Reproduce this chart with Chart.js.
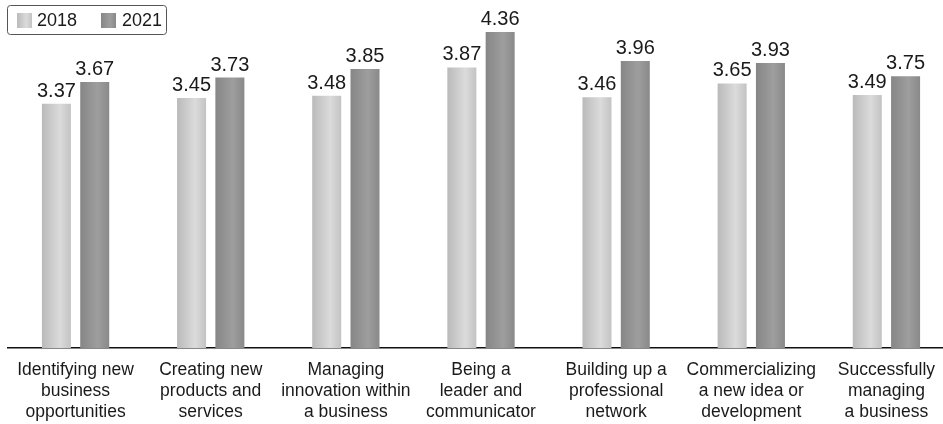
<!DOCTYPE html>
<html lang="en">
<head>
    <meta charset="UTF-8">
    <title>Entrepreneurial skills 2018 vs 2021</title>
    <script src="https://cdn.jsdelivr.net/npm/chart.js"></script>
    <style>
        html, body { margin: 0; padding: 0; background: #fff; overflow: hidden; }
        #wrap { position: relative; width: 962px; height: 424px; }
    </style>
</head>
<body>
    <div id="wrap">
        <canvas id="skillsChart"></canvas>
    </div>

    <script>
        // Skill categories (each entry = the lines of its axis label)
        const categories = [
            ['Identifying new', 'business', 'opportunities'],
            ['Creating new', 'products and', 'services'],
            ['Managing', 'innovation within', 'a business'],
            ['Being a', 'leader and', 'communicator'],
            ['Building up a', 'professional', 'network'],
            ['Commercializing', 'a new idea or', 'development'],
            ['Successfully', 'managing', 'a business']
        ];
        const seriesNames = ['2018', '2021'];
        const values2018 = [3.37, 3.45, 3.48, 3.87, 3.46, 3.65, 3.49];
        const values2021 = [3.67, 3.73, 3.85, 4.36, 3.96, 3.93, 3.75];

        const FONT = '"Liberation Sans", Arial, sans-serif';
        const CAT_PCT = 0.567;
        const BAR_PCT = 0.757;

        // gradient stops for each series (cylinder-like shading)
        const shades = [
            [[0, '#bababa'], [0.62, '#dbdbdb'], [1, '#c3c3c3']],
            [[0, '#868686'], [0.6, '#9e9e9e'], [1, '#898989']]
        ];

        function makeGradient(c, x0, x1, stops) {
            const g = c.createLinearGradient(x0, 0, x1, 0);
            stops.forEach(s => g.addColorStop(s[0], s[1]));
            return g;
        }

        function barFill(context) {
            const chart = context.chart;
            const x = chart.scales.x;
            const ds = context.datasetIndex;
            if (!chart.chartArea || !x || context.type !== 'data') return shades[ds][1][1];
            const cat = (x.right - x.left) / categories.length;
            const chunk = cat * CAT_PCT / 2;
            const center = x.getPixelForValue(context.dataIndex) + (ds === 0 ? -chunk / 2 : chunk / 2);
            const half = chunk * BAR_PCT / 2;
            return makeGradient(chart.ctx, center - half, center + half, shades[ds]);
        }

        // value labels above bars
        const valueLabels = {
            id: 'valueLabels',
            afterDatasetsDraw(chart) {
                const c = chart.ctx;
                c.save();
                c.font = '20px ' + FONT;
                c.fillStyle = '#1a1a1a';
                c.textAlign = 'center';
                c.textBaseline = 'alphabetic';
                chart.data.datasets.forEach((d, i) => {
                    chart.getDatasetMeta(i).data.forEach((bar, j) => {
                        c.fillText(d.data[j].toFixed(2), bar.x, bar.y - 7);
                    });
                });
                c.restore();
            }
        };

        // boxed legend in the top-left corner
        const boxLegend = {
            id: 'boxLegend',
            afterDraw(chart) {
                const c = chart.ctx;
                c.save();
                c.strokeStyle = '#555';
                c.lineWidth = 1;
                c.beginPath();
                c.roundRect(7.5, 5.5, 159, 29, 3);
                c.stroke();
                const items = [{ x: 17, tx: 37 }, { x: 101, tx: 122 }];
                c.font = '18px ' + FONT;
                c.textBaseline = 'middle';
                c.textAlign = 'left';
                items.forEach((it, i) => {
                    c.fillStyle = makeGradient(c, it.x, it.x + 15, shades[i]);
                    c.fillRect(it.x, 13, 15, 15);
                    c.fillStyle = '#1a1a1a';
                    c.fillText(seriesNames[i], it.tx, 21);
                });
                c.restore();
            }
        };

        const ctx = document.getElementById('skillsChart').getContext('2d');
        new Chart(ctx, {
            type: 'bar',
            data: {
                labels: categories,
                datasets: [
                    { label: seriesNames[0], data: values2018, backgroundColor: barFill },
                    { label: seriesNames[1], data: values2021, backgroundColor: barFill }
                ]
            },
            options: {
                responsive: true,
                maintainAspectRatio: false,
                animation: false,
                categoryPercentage: CAT_PCT,
                barPercentage: BAR_PCT,
                layout: { padding: { left: 8, right: 8, top: 0, bottom: 0 } },
                plugins: {
                    legend: { display: false },
                    tooltip: { enabled: false }
                },
                scales: {
                    x: {
                        grid: { display: false },
                        border: { display: true, color: '#111', width: 1.5 },
                        ticks: {
                            color: '#1a1a1a',
                            font: { family: FONT, size: 17.5, lineHeight: '21px' },
                            padding: 4,
                            maxRotation: 0,
                            autoSkip: false
                        },
                        afterFit(scale) { scale.height = 76; }
                    },
                    y: {
                        display: false,
                        min: 0,
                        max: 4.8
                    }
                }
            },
            plugins: [valueLabels, boxLegend]
        });
    </script>
</body>
</html>
